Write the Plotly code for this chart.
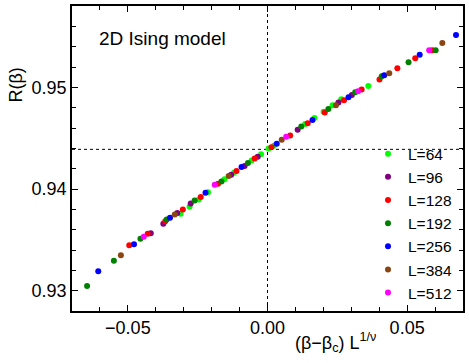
import plotly.graph_objects as go

labels = ["L=64", "L=96", "L=128", "L=192", "L=256", "L=384", "L=512"]
colors = ["#00ff00", "#800080", "#ff0000", "#008000", "#0000ff", "#8b4513", "#ff00ff"]

x64 = [-0.0311, -0.0279, -0.0246, -0.0213, -0.0154, -0.0120, -0.0057, -0.0023, 0.0004, 0.0023,
       0.0135, 0.0168, 0.0201, 0.0233, 0.0264, 0.0361]
y64 = [0.93757, 0.93826, 0.93896, 0.93967, 0.94097, 0.94161, 0.94280, 0.94343, 0.94398, 0.94425,
       0.94639, 0.94699, 0.94760, 0.94823, 0.94882, 0.95013]

x96 = [-0.0418, -0.0373, -0.0323, -0.0275, -0.0130, -0.0082, -0.0035, 0.0108, 0.0254, 0.0302]
y96 = [0.93564, 0.93658, 0.93763, 0.93857, 0.94139, 0.94226, 0.94317, 0.94583, 0.94850, 0.94925]

x128 = [-0.0495, -0.0429, -0.0366, -0.0303, -0.0239, -0.0177, -0.0111, -0.0046, 0.0014, 0.0081,
        0.0144, 0.0205, 0.0274, 0.0337, 0.0401, 0.0465, 0.0529, 0.0590]
y128 = [0.93447, 0.93561, 0.93683, 0.93799, 0.93922, 0.94051, 0.94178, 0.94299, 0.94411, 0.94527,
        0.94647, 0.94753, 0.94874, 0.94979, 0.95078, 0.95187, 0.95286, 0.95365]

x192 = [-0.0646, -0.0550, -0.0455, -0.0361, -0.0261, -0.0165, -0.0070, 0.0121, 0.0218, 0.0314,
        0.0409, 0.0505, 0.0602]
y192 = [0.93047, 0.93294, 0.93510, 0.93700, 0.93886, 0.94073, 0.94255, 0.94615, 0.94786, 0.94952,
        0.95110, 0.95246, 0.95365]

x256 = [-0.0606, -0.0478, -0.0349, -0.0222, -0.0093, 0.0033, 0.0161, 0.0290, 0.0418, 0.0545, 0.0675]
y256 = [0.93192, 0.93456, 0.93717, 0.93964, 0.94217, 0.94445, 0.94678, 0.94903, 0.95119, 0.95321, 0.95515]

x384 = [-0.0525, -0.0332, -0.0139, 0.0051, 0.0245, 0.0436, 0.0626]
y384 = [0.93348, 0.93748, 0.94129, 0.94485, 0.94823, 0.95139, 0.95437]

x512 = [-0.0443, -0.0189, 0.0067, 0.0324, 0.0579]
y512 = [0.93530, 0.94042, 0.94513, 0.94961, 0.95365]

R_crit = 0.9439
x_range = [-0.07, 0.07]
y_range = [0.928, 0.958]

xs = [x64, x96, x128, x192, x256, x384, x512]
ys = [y64, y96, y128, y192, y256, y384, y512]

FONT = "Liberation Sans, Arial, Helvetica, sans-serif"

fig = go.Figure()
for lab, col, xv, yv in zip(labels, colors, xs, ys):
    fig.add_trace(go.Scatter(x=xv, y=yv, mode="markers", name=lab,
                             marker=dict(color=col, size=6, line=dict(width=0))))

fig.add_shape(type="line", xref="paper", yref="y", x0=0, x1=1, y0=R_crit, y1=R_crit,
              line=dict(color="black", width=1, dash="3px,3px"), layer="below")
fig.add_shape(type="line", xref="x", yref="paper", x0=0, x1=0, y0=0, y1=1,
              line=dict(color="black", width=1, dash="3px,3px"), layer="below")

axis_common = dict(showline=True, linecolor="black", linewidth=1.5, mirror="ticks",
                   ticks="inside", ticklen=6, tickwidth=1.2, tickcolor="black",
                   showgrid=False, zeroline=False,
                   tickfont=dict(family=FONT, size=18, color="black"))

fig.update_xaxes(range=x_range, tickvals=[-0.05, 0.0, 0.05], tickformat=".2f",
                 minor=dict(dtick=0.01, tick0=0, ticks="inside", ticklen=4, tickcolor="black", tickwidth=1.2),
                 **axis_common)
fig.update_yaxes(range=y_range, tickvals=[0.93, 0.94, 0.95], tickformat=".2f",
                 minor=dict(dtick=0.002, tick0=0.93, ticks="inside", ticklen=4, tickcolor="black", tickwidth=1.2),
                 **axis_common)

fig.add_annotation(text="2D Ising model", xref="paper", yref="paper", x=(97 - 72) / 391, y=(311 - 37) / 307,
                   xanchor="left", yanchor="middle", showarrow=False,
                   font=dict(family=FONT, size=19, color="black"))
fig.add_annotation(text="(β−β<sub>c</sub>) L<sup>1/ν</sup>", xref="paper", yref="paper",
                   x=(335 - 72) / 391, y=-(343 - 311) / 307, xanchor="center", yanchor="middle",
                   showarrow=False, font=dict(family=FONT, size=18, color="black"))
fig.add_annotation(text="R(β)", xref="paper", yref="paper", x=-(72 - 16) / 391, y=(311 - 84) / 307,
                   xanchor="center", yanchor="middle", textangle=-90, showarrow=False,
                   font=dict(family=FONT, size=18, color="black"))

fig.update_layout(
    width=469, height=363,
    margin=dict(l=72, r=6, t=4, b=52),
    paper_bgcolor="white", plot_bgcolor="white",
    showlegend=True,
    legend=dict(x=(368 - 72) / 391, y=(311 - 136) / 307, xanchor="left", yanchor="top",
                bgcolor="rgba(0,0,0,0)", borderwidth=0,
                font=dict(family=FONT, size=15.5, color="black"), tracegroupgap=0),
)

fig.write_html("out.html", config={"displayModeBar": False},
               post_script="document.body.style.margin='0';")
